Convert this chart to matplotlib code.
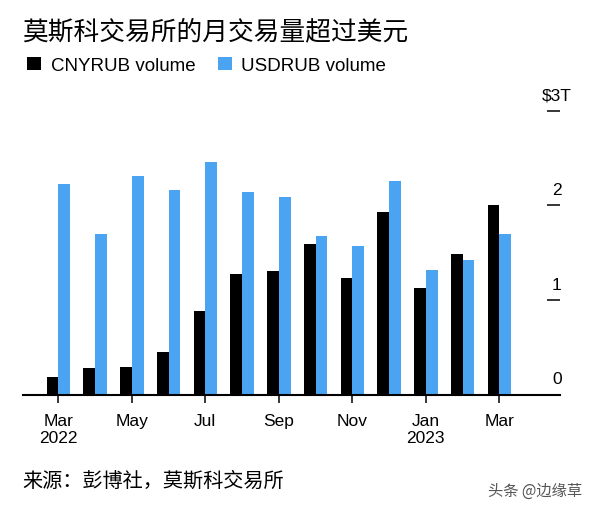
import matplotlib.pyplot as plt
import matplotlib.transforms as mtransforms
import numpy as np

plt.rcParams['font.family'] = ['Liberation Sans', 'Noto Sans CJK SC', 'DejaVu Sans']

# monthly volume, trillions of rubles (Mar 2022 .. Mar 2023)
months = ["Mar", "Apr", "May", "Jun", "Jul", "Aug", "Sep",
          "Oct", "Nov", "Dec", "Jan", "Feb", "Mar"]
cny_volume = [0.19, 0.29, 0.30, 0.45, 0.89, 1.28, 1.31,
              1.59, 1.23, 1.93, 1.13, 1.49, 2.01]
usd_volume = [2.23, 1.70, 2.31, 2.16, 2.46, 2.14, 2.09,
              1.68, 1.57, 2.26, 1.32, 1.42, 1.70]
tick_pos = [0, 2, 4, 6, 8, 10, 12]
tick_labels = ["Mar\n2022", "May", "Jul", "Sep", "Nov", "Jan\n2023", "Mar"]
y_ticks = [0, 1, 2, 3]
y_labels = ["0", "1", "2", "$3T"]

BLUE = '#4ba4f2'
cjk = ['Noto Sans CJK SC', 'DejaVu Sans']

fig = plt.figure(figsize=(6, 5.1), dpi=100)
ax = fig.add_axes([23 / 600, 1 - 396 / 510, 537 / 600, 308 / 510])

x = np.arange(len(months))
w = 0.32
ax.bar(x - w / 2, cny_volume, w, color='black', label='CNYRUB volume')
ax.bar(x + w / 2, usd_volume, w, color=BLUE, label='USDRUB volume')

ax.set_xlim(-0.96, 13.65)
ax.set_ylim(0, 3.25)

for s in ['top', 'left', 'right']:
    ax.spines[s].set_visible(False)
ax.spines['bottom'].set_linewidth(1.5)

ax.set_xticks(tick_pos)
ax.set_xticklabels(tick_labels, fontsize=12.5, linespacing=1.15)
ax.tick_params(axis='x', length=6, width=1.1, pad=7)

# right side dashes + labels above them
ax.yaxis.tick_right()
ax.set_yticks(y_ticks[1:])
ax.set_yticklabels([])
ax.tick_params(axis='y', direction='in', length=9.5, width=1.1)
trans = mtransforms.blended_transform_factory(ax.transAxes, ax.transData)
for v, lab in zip(y_ticks, y_labels):
    ax.text(0.994, v + 0.17, lab, transform=trans, ha='center', va='center',
            fontsize=12.5)

fig.text(22 / 600, 1 - 32 / 510, "莫斯科交易所的月交易量超过美元",
         family=cjk, fontsize=18.5, va='center', ha='left')

ax.legend(loc='upper left', bbox_to_anchor=(-0.006, 1.123),
          ncol=2, frameon=False, fontsize=13.5, handlelength=0.75,
          handleheight=0.75, handletextpad=0.5, columnspacing=1.2,
          borderaxespad=0)

fig.text(22 / 600, 1 - 481 / 510, "来源：彭博社，莫斯科交易所",
         family=cjk, fontsize=14.5, va='center', ha='left')
fig.text(488 / 600, 1 - 491 / 510, "头条 @边缘草", family=cjk,
         fontsize=11, color='#555555', va='center', ha='left')

fig.savefig('out.png', dpi=100)
